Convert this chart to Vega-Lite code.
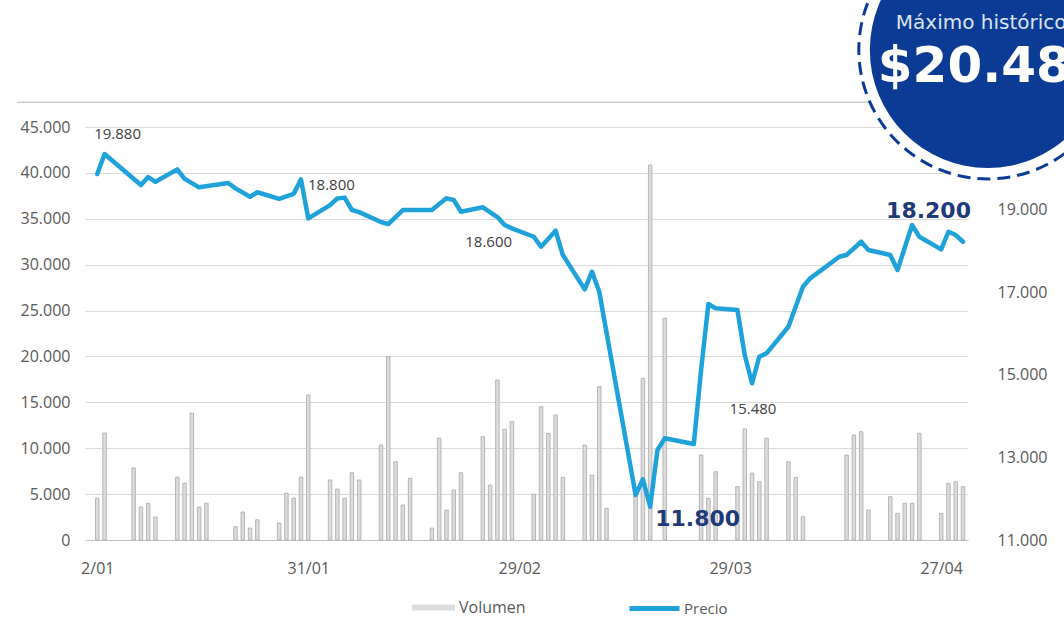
{
  "$schema": "https://vega.github.io/schema/vega-lite/v6.json",
  "width": 883,
  "height": 413,
  "autosize": {"type": "none"},
  "padding": {"left": 85, "top": 127, "right": 96, "bottom": 81},
  "background": "white",
  "config": {"view": {"stroke": null}, "font": "Open Sans"},
  "datasets": {
    "vol": [
      {"date": "2020-01-02", "vol": 4540}, {"date": "2020-01-03", "vol": 11660},
      {"date": "2020-01-07", "vol": 7850}, {"date": "2020-01-08", "vol": 3600},
      {"date": "2020-01-09", "vol": 4000}, {"date": "2020-01-10", "vol": 2500},
      {"date": "2020-01-13", "vol": 6850}, {"date": "2020-01-14", "vol": 6200},
      {"date": "2020-01-15", "vol": 13840}, {"date": "2020-01-16", "vol": 3600},
      {"date": "2020-01-17", "vol": 4000}, {"date": "2020-01-21", "vol": 1450},
      {"date": "2020-01-22", "vol": 3050}, {"date": "2020-01-23", "vol": 1300},
      {"date": "2020-01-24", "vol": 2200}, {"date": "2020-01-27", "vol": 1850},
      {"date": "2020-01-28", "vol": 5100}, {"date": "2020-01-29", "vol": 4550},
      {"date": "2020-01-30", "vol": 6850}, {"date": "2020-01-31", "vol": 15800},
      {"date": "2020-02-03", "vol": 6540}, {"date": "2020-02-04", "vol": 5550},
      {"date": "2020-02-05", "vol": 4540}, {"date": "2020-02-06", "vol": 7330},
      {"date": "2020-02-07", "vol": 6540}, {"date": "2020-02-10", "vol": 10350},
      {"date": "2020-02-11", "vol": 19970}, {"date": "2020-02-12", "vol": 8530},
      {"date": "2020-02-13", "vol": 3810}, {"date": "2020-02-14", "vol": 6720},
      {"date": "2020-02-17", "vol": 1300}, {"date": "2020-02-18", "vol": 11100},
      {"date": "2020-02-19", "vol": 3270}, {"date": "2020-02-20", "vol": 5450},
      {"date": "2020-02-21", "vol": 7330}, {"date": "2020-02-24", "vol": 11260},
      {"date": "2020-02-25", "vol": 5990}, {"date": "2020-02-26", "vol": 17430},
      {"date": "2020-02-27", "vol": 12060}, {"date": "2020-02-28", "vol": 12890},
      {"date": "2020-03-02", "vol": 5000}, {"date": "2020-03-03", "vol": 14530},
      {"date": "2020-03-04", "vol": 11620}, {"date": "2020-03-05", "vol": 13620},
      {"date": "2020-03-06", "vol": 6830}, {"date": "2020-03-09", "vol": 10350},
      {"date": "2020-03-10", "vol": 7080}, {"date": "2020-03-11", "vol": 16710},
      {"date": "2020-03-12", "vol": 3450}, {"date": "2020-03-16", "vol": 5450},
      {"date": "2020-03-17", "vol": 17620}, {"date": "2020-03-18", "vol": 40860},
      {"date": "2020-03-20", "vol": 24160}, {"date": "2020-03-25", "vol": 9260},
      {"date": "2020-03-26", "vol": 4540}, {"date": "2020-03-27", "vol": 7440},
      {"date": "2020-03-30", "vol": 5810}, {"date": "2020-03-31", "vol": 12100},
      {"date": "2020-04-01", "vol": 7300}, {"date": "2020-04-02", "vol": 6350},
      {"date": "2020-04-03", "vol": 11080}, {"date": "2020-04-06", "vol": 8530},
      {"date": "2020-04-07", "vol": 6830}, {"date": "2020-04-08", "vol": 2540},
      {"date": "2020-04-14", "vol": 9260}, {"date": "2020-04-15", "vol": 11440},
      {"date": "2020-04-16", "vol": 11800}, {"date": "2020-04-17", "vol": 3270},
      {"date": "2020-04-20", "vol": 4720}, {"date": "2020-04-21", "vol": 2900},
      {"date": "2020-04-22", "vol": 4000}, {"date": "2020-04-23", "vol": 4000},
      {"date": "2020-04-24", "vol": 11620}, {"date": "2020-04-27", "vol": 2900},
      {"date": "2020-04-28", "vol": 6170}, {"date": "2020-04-29", "vol": 6350},
      {"date": "2020-04-30", "vol": 5810}
    ],
    "price": [
      {"date": "2020-01-02", "price": 19861}, {"date": "2020-01-03", "price": 20345},
      {"date": "2020-01-08", "price": 19595}, {"date": "2020-01-09", "price": 19788},
      {"date": "2020-01-10", "price": 19674}, {"date": "2020-01-13", "price": 19975},
      {"date": "2020-01-14", "price": 19745}, {"date": "2020-01-16", "price": 19539},
      {"date": "2020-01-20", "price": 19643}, {"date": "2020-01-21", "price": 19515},
      {"date": "2020-01-23", "price": 19311}, {"date": "2020-01-24", "price": 19420},
      {"date": "2020-01-27", "price": 19260}, {"date": "2020-01-29", "price": 19381},
      {"date": "2020-01-30", "price": 19733}, {"date": "2020-01-31", "price": 18788},
      {"date": "2020-02-03", "price": 19110}, {"date": "2020-02-04", "price": 19270},
      {"date": "2020-02-05", "price": 19290}, {"date": "2020-02-06", "price": 18990},
      {"date": "2020-02-07", "price": 18940}, {"date": "2020-02-10", "price": 18700},
      {"date": "2020-02-11", "price": 18650}, {"date": "2020-02-13", "price": 18990},
      {"date": "2020-02-14", "price": 18990}, {"date": "2020-02-17", "price": 18990},
      {"date": "2020-02-18", "price": 19135}, {"date": "2020-02-19", "price": 19273},
      {"date": "2020-02-20", "price": 19231}, {"date": "2020-02-21", "price": 18948},
      {"date": "2020-02-24", "price": 19055}, {"date": "2020-02-26", "price": 18820},
      {"date": "2020-02-27", "price": 18626}, {"date": "2020-02-28", "price": 18546},
      {"date": "2020-03-02", "price": 18343}, {"date": "2020-03-03", "price": 18101},
      {"date": "2020-03-05", "price": 18488}, {"date": "2020-03-06", "price": 17900},
      {"date": "2020-03-09", "price": 17069}, {"date": "2020-03-10", "price": 17496},
      {"date": "2020-03-11", "price": 17011}, {"date": "2020-03-16", "price": 12089},
      {"date": "2020-03-17", "price": 12470}, {"date": "2020-03-18", "price": 11806},
      {"date": "2020-03-19", "price": 13179}, {"date": "2020-03-20", "price": 13462},
      {"date": "2020-03-24", "price": 13324}, {"date": "2020-03-25", "price": 15116},
      {"date": "2020-03-26", "price": 16714}, {"date": "2020-03-27", "price": 16609},
      {"date": "2020-03-30", "price": 16568}, {"date": "2020-03-31", "price": 15479},
      {"date": "2020-04-01", "price": 14794}, {"date": "2020-04-02", "price": 15438},
      {"date": "2020-04-03", "price": 15520}, {"date": "2020-04-06", "price": 16164},
      {"date": "2020-04-08", "price": 17132}, {"date": "2020-04-09", "price": 17336},
      {"date": "2020-04-13", "price": 17859}, {"date": "2020-04-14", "price": 17900},
      {"date": "2020-04-16", "price": 18222}, {"date": "2020-04-17", "price": 18021},
      {"date": "2020-04-20", "price": 17900}, {"date": "2020-04-21", "price": 17537},
      {"date": "2020-04-23", "price": 18626}, {"date": "2020-04-24", "price": 18343},
      {"date": "2020-04-27", "price": 18038}, {"date": "2020-04-28", "price": 18464},
      {"date": "2020-04-29", "price": 18384}, {"date": "2020-04-30", "price": 18222}
    ],
    "notes": [
      {"date": "2020-01-03", "price": 20345, "label": "19.880"},
      {"date": "2020-01-30", "price": 19733, "label": "18.800"},
      {"date": "2020-02-27", "price": 18626, "label": "18.600"},
      {"date": "2020-03-18", "price": 11806, "label": "11.800"},
      {"date": "2020-04-01", "price": 14794, "label": "15.480"},
      {"date": "2020-04-23", "price": 18626, "label": "18.200"}
    ],
    "deco": [
      {"date": "2019-12-22", "end": "2020-04-25", "vol": 47700}
    ],
    "badge": [
      {"date": "2020-05-03", "vol": 53400, "t1": "Máximo histórico", "t2": "$20.480"}
    ]
  },
  "layer": [
    {
      "encoding": {
        "x": {
          "field": "date", "type": "temporal",
          "scale": {"type": "utc", "domain": [{"year": 2020, "month": 1, "date": 1, "utc": true}, {"year": 2020, "month": 4, "date": 30, "utc": true}]},
          "axis": {
            "title": null,
            "values": [
              {"year": 2020, "month": 1, "date": 2, "utc": true},
              {"year": 2020, "month": 1, "date": 31, "utc": true},
              {"year": 2020, "month": 2, "date": 29, "utc": true},
              {"year": 2020, "month": 3, "date": 29, "utc": true},
              {"year": 2020, "month": 4, "date": 27, "utc": true}
            ],
            "format": "%-d/%m",
            "labelFont": "Open Sans", "labelFontSize": 16, "labelColor": "#595959",
            "labelPadding": 20, "labelFlush": false, "labelOverlap": false,
            "ticks": false, "grid": false, "domainColor": "#bfbfbf", "domainWidth": 1.2
          }
        },
        "y": {
          "field": "vol", "type": "quantitative",
          "scale": {"domain": [0, 45000], "nice": false, "zero": true},
          "axis": {
            "orient": "left", "title": null,
            "values": [0, 5000, 10000, 15000, 20000, 25000, 30000, 35000, 40000, 45000],
            "labelExpr": "replace(format(datum.value, ','), ',', '.')",
            "labelFont": "Open Sans", "labelFontSize": 16, "labelColor": "#595959",
            "labelPadding": 15, "ticks": false, "domain": false,
            "grid": true, "gridColor": "#d9d9d9", "gridWidth": 1.2
          }
        }
      },
      "layer": [
        {
          "data": {"name": "deco"},
          "mark": {"type": "rule", "color": "#cccccc", "strokeWidth": 1.5, "clip": false},
          "encoding": {"x2": {"field": "end"}}
        },
        {
          "data": {"name": "vol"},
          "mark": {"type": "bar", "width": 3.5, "stroke": "#a8a8a8", "strokeWidth": 0.8},
          "encoding": {
            "fill": {
              "datum": "Volumen", "type": "nominal",
              "scale": {"range": ["#dcdcdc"]},
              "legend": {
                "orient": "none", "legendX": 327, "legendY": 459, "padding": 0,
                "title": null,
                "symbolType": "M-1,-0.14L1,-0.14L1,0.14L-1,0.14Z",
                "symbolSize": 1849, "symbolStrokeWidth": 0,
                "labelFont": "Open Sans", "labelFontSize": 16, "labelColor": "#595959", "labelOffset": 4,
                "encode": {"symbols": {"update": {"fill": {"value": "#b4b4b4"}, "opacity": {"value": 1}}}}
              }
            }
          }
        },
        {
          "data": {"name": "badge"},
          "mark": {"type": "point", "shape": "circle", "filled": true, "fill": "white", "stroke": "#0b3b94", "strokeWidth": 3, "strokeDash": [13, 7], "size": 66564, "opacity": 1, "clip": false, "xOffset": 3},
          "encoding": {}
        },
        {
          "data": {"name": "badge"},
          "mark": {"type": "point", "shape": "circle", "filled": true, "fill": "#0b3b94", "strokeWidth": 0, "size": 55696, "opacity": 1, "clip": false, "xOffset": 3},
          "encoding": {}
        },
        {
          "data": {"name": "badge"},
          "mark": {"type": "text", "align": "left", "baseline": "middle", "dx": -89, "dy": -27, "font": "DejaVu Sans", "fontSize": 20, "color": "#dde4f0", "clip": false},
          "encoding": {"text": {"field": "t1"}}
        },
        {
          "data": {"name": "badge"},
          "mark": {"type": "text", "align": "left", "baseline": "middle", "dx": -107, "dy": 17, "font": "DejaVu Sans", "fontSize": 50, "fontWeight": "bold", "color": "white", "clip": false},
          "encoding": {"text": {"field": "t2"}}
        }
      ]
    },
    {
      "encoding": {
        "x": {
          "field": "date", "type": "temporal",
          "scale": {"type": "utc", "domain": [{"year": 2020, "month": 1, "date": 1, "utc": true}, {"year": 2020, "month": 4, "date": 30, "utc": true}]},
          "axis": {
            "title": null,
            "values": [
              {"year": 2020, "month": 1, "date": 2, "utc": true},
              {"year": 2020, "month": 1, "date": 31, "utc": true},
              {"year": 2020, "month": 2, "date": 29, "utc": true},
              {"year": 2020, "month": 3, "date": 29, "utc": true},
              {"year": 2020, "month": 4, "date": 27, "utc": true}
            ],
            "format": "%-d/%m",
            "labelFont": "Open Sans", "labelFontSize": 16, "labelColor": "#595959",
            "labelPadding": 20, "labelFlush": false, "labelOverlap": false,
            "ticks": false, "grid": false, "domainColor": "#bfbfbf", "domainWidth": 1.2
          }
        },
        "y": {
          "field": "price", "type": "quantitative",
          "scale": {"domain": [11000, 21000], "nice": false, "zero": false},
          "axis": {
            "orient": "right", "title": null,
            "values": [11000, 13000, 15000, 17000, 19000],
            "labelExpr": "replace(format(datum.value, ','), ',', '.')",
            "labelFont": "Open Sans", "labelFontSize": 16, "labelColor": "#595959",
            "labelPadding": 29, "ticks": false, "domain": false, "grid": false
          }
        }
      },
      "layer": [
        {
          "data": {"name": "price"},
          "mark": {"type": "line", "strokeWidth": 4.5, "strokeJoin": "round", "strokeCap": "round"},
          "encoding": {
            "stroke": {
              "datum": "Precio", "type": "nominal",
              "scale": {"range": ["#1fa1da"]},
              "legend": {
                "orient": "none", "legendX": 542, "legendY": 454, "padding": 0,
                "title": null, "symbolType": "stroke", "symbolSize": 2500, "symbolStrokeWidth": 5,
                "labelFont": "Open Sans", "labelFontSize": 15, "labelColor": "#595959", "labelOffset": 2
              }
            }
          }
        },
        {
          "data": {"name": "notes"},
          "transform": [{"filter": "datum.label == '19.880'"}],
          "mark": {"type": "text", "align": "center", "baseline": "middle", "dx": 13, "dy": -20, "font": "Open Sans", "fontSize": 15, "color": "#404040"},
          "encoding": {"text": {"field": "label"}}
        },
        {
          "data": {"name": "notes"},
          "transform": [{"filter": "datum.label == '18.800'"}],
          "mark": {"type": "text", "align": "left", "baseline": "middle", "dx": 7, "dy": 6, "font": "Open Sans", "fontSize": 15, "color": "#404040"},
          "encoding": {"text": {"field": "label"}}
        },
        {
          "data": {"name": "notes"},
          "transform": [{"filter": "datum.label == '18.600'"}],
          "mark": {"type": "text", "align": "center", "baseline": "middle", "dx": -16, "dy": 17, "font": "Open Sans", "fontSize": 15, "color": "#404040"},
          "encoding": {"text": {"field": "label"}}
        },
        {
          "data": {"name": "notes"},
          "transform": [{"filter": "datum.label == '15.480'"}],
          "mark": {"type": "text", "align": "center", "baseline": "middle", "dx": 1, "dy": 26, "font": "Open Sans", "fontSize": 15, "color": "#404040"},
          "encoding": {"text": {"field": "label"}}
        },
        {
          "data": {"name": "notes"},
          "transform": [{"filter": "datum.label == '11.800'"}],
          "mark": {"type": "text", "align": "left", "baseline": "middle", "dx": 5, "dy": 12, "font": "DejaVu Sans", "fontSize": 22, "fontWeight": "bold", "color": "#1f3a78"},
          "encoding": {"text": {"field": "label"}}
        },
        {
          "data": {"name": "notes"},
          "transform": [{"filter": "datum.label == '18.200'"}],
          "mark": {"type": "text", "align": "left", "baseline": "middle", "dx": -26, "dy": -14, "font": "DejaVu Sans", "fontSize": 22, "fontWeight": "bold", "color": "#1f3a78"},
          "encoding": {"text": {"field": "label"}}
        }
      ]
    }
  ],
  "resolve": {"scale": {"y": "independent"}}
}
